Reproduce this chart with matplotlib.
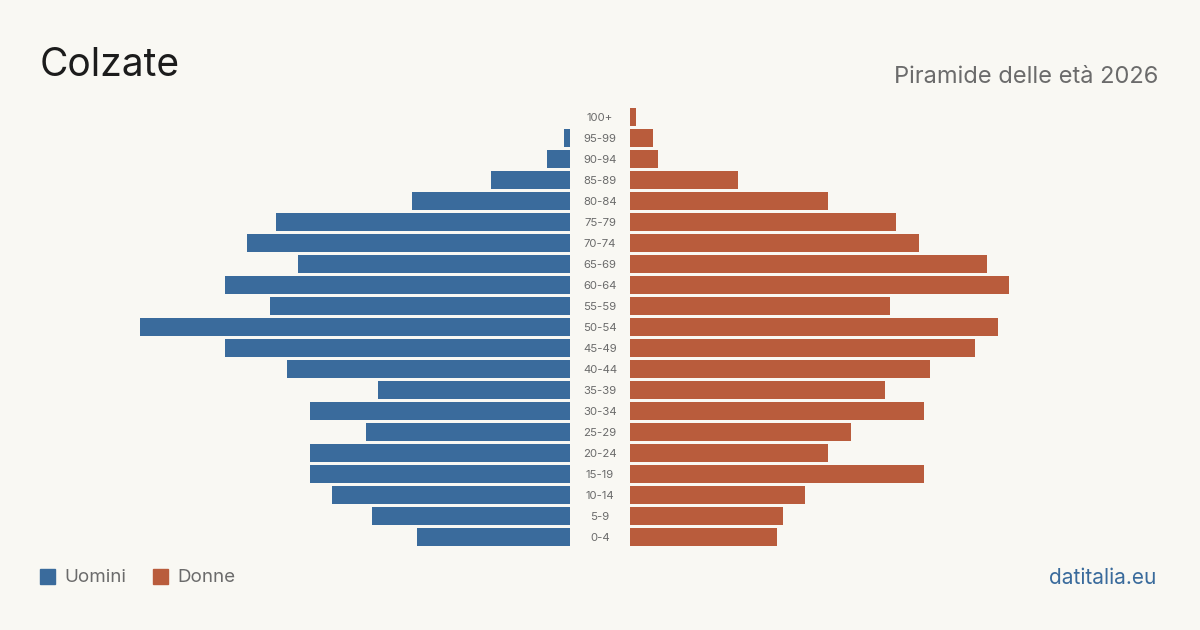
import matplotlib.pyplot as plt
from matplotlib.patches import Rectangle

plt.rcParams['font.family'] = ['Inter', 'DejaVu Sans']

eta = ["0-4", "5-9", "10-14", "15-19", "20-24", "25-29", "30-34", "35-39",
       "40-44", "45-49", "50-54", "55-59", "60-64", "65-69", "70-74", "75-79",
       "80-84", "85-89", "90-94", "95-99", "100+"]
uomini = [27, 35, 42, 46, 46, 36, 46, 34, 50, 61, 76, 53, 61, 48, 57, 52, 28, 14, 4, 1, 0]
donne = [26, 27, 31, 52, 35, 39, 52, 45, 53, 61, 65, 46, 67, 63, 51, 47, 35, 19, 5, 4, 1]

bg = '#f9f8f3'
blu = '#3a6b9c'
rosso = '#b95c3c'

fig = plt.figure(figsize=(12, 6.3), dpi=100, facecolor=bg)
ax = fig.add_axes([0, 0, 1, 1])
ax.set_facecolor(bg)

# scala: ~5.66 px per persona, centro a x=600
px = 5.66
gap = 30 / px
ax.set_xlim(-600 / px, 600 / px)
ax.set_ylim((537 - 630) / 21, 537 / 21)
ax.axis('off')

y = range(len(eta))
ax.barh(y, [-v for v in uomini], left=-gap, height=0.81, color=blu)
ax.barh(y, donne, left=gap, height=0.81, color=rosso)
for i, lab in enumerate(eta):
    ax.text(0, i - 0.05, lab, ha='center', va='center', fontsize=8.2, color='#6b6b6b')

fig.text(40 / 1200, 1 - 66 / 630, "Colzate", fontsize=28, color='#1c1c1c',
         ha='left', va='center')
fig.text(1158 / 1200, 1 - 77 / 630, "Piramide delle età 2026", fontsize=17,
         color='#6b6b6b', ha='right', va='center')

# legenda
for x0, col, lab in [(40, blu, "Uomini"), (153, rosso, "Donne")]:
    fig.patches.append(Rectangle((x0 / 1200, 1 - 584 / 630), 15 / 1200, 15 / 630,
                                 transform=fig.transFigure, color=col))
    fig.text((x0 + 24) / 1200, 1 - 578 / 630, lab, fontsize=13.5,
             color='#6b6b6b', ha='left', va='center')

fig.text(1156 / 1200, 1 - 578 / 630, "datitalia.eu", fontsize=15,
         color=blu, ha='right', va='center')

fig.savefig('out.png', dpi=100, facecolor=bg)
